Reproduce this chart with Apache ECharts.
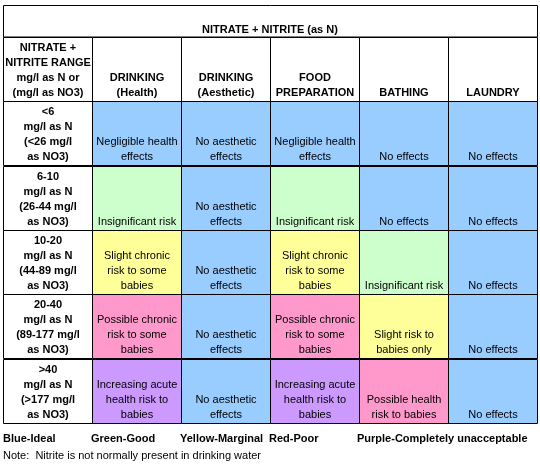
<!DOCTYPE html>
<html>
<head>
<meta charset="utf-8">
<script src="https://cdn.jsdelivr.net/npm/echarts@6/dist/echarts.min.js"></script>
<style>html,body{margin:0;padding:0;background:#fff}#chart{width:540px;height:467px}</style>
</head>
<body>
<div id="chart"></div>
<script>
const title = "NITRATE + NITRITE (as N)";
const columns = ["NITRATE +\nNITRITE RANGE\nmg/l as N or\n(mg/l as NO3)", "DRINKING\n(Health)", "DRINKING\n(Aesthetic)", "FOOD\nPREPARATION", "BATHING", "LAUNDRY"];
const ranges = ["<6\nmg/l as N\n(<26 mg/l\nas NO3)", "6-10\nmg/l as N\n(26-44 mg/l\nas NO3)", "10-20\nmg/l as N\n(44-89 mg/l\nas NO3)", "20-40\nmg/l as N\n(89-177 mg/l\nas NO3)", ">40\nmg/l as N\n(>177 mg/l\nas NO3)"];
const ratings = [
  ["blue", "blue", "blue", "blue", "blue"],
  ["green", "blue", "green", "blue", "blue"],
  ["yellow", "blue", "yellow", "green", "blue"],
  ["red", "blue", "red", "yellow", "blue"],
  ["purple", "blue", "purple", "red", "blue"]
];
const effects = [
  ["Negligible health\neffects", "No aesthetic\neffects", "Negligible health\neffects", "No effects", "No effects"],
  ["Insignificant risk", "No aesthetic\neffects", "Insignificant risk", "No effects", "No effects"],
  ["Slight chronic\nrisk to some\nbabies", "No aesthetic\neffects", "Slight chronic\nrisk to some\nbabies", "Insignificant risk", "No effects"],
  ["Possible chronic\nrisk to some\nbabies", "No aesthetic\neffects", "Possible chronic\nrisk to some\nbabies", "Slight risk to\nbabies only", "No effects"],
  ["Increasing acute\nhealth risk to\nbabies", "No aesthetic\neffects", "Increasing acute\nhealth risk to\nbabies", "Possible health\nrisk to babies", "No effects"]
];
const legendLabels = ["Blue-Ideal", "Green-Good", "Yellow-Marginal", "Red-Poor", "Purple-Completely unacceptable"];
const note = "Note:  Nitrite is not normally present in drinking water";

const colors = { white: "#ffffff", blue: "#99ccff", green: "#ccffcc", yellow: "#ffff99", red: "#ff99cc", purple: "#cc99ff" };
const FONT = "Liberation Sans, Arial, sans-serif";

// build cells: [col, row, color, text, bold]
const cells = [];
columns.forEach((c, i) => cells.push([i, 0, "white", c, 1]));
ranges.forEach((r, j) => {
  cells.push([0, j + 1, "white", r, 1]);
  effects[j].forEach((t, i) => cells.push([i + 1, j + 1, ratings[j][i], t, 0]));
});

const chart = echarts.init(document.getElementById("chart"));

chart.setOption({
  animation: false,
  grid: { left: 3, right: 3, top: 37, bottom: 44 },
  xAxis: { type: "category", data: columns.map((_, i) => i), show: false },
  yAxis: { type: "category", data: [0, 1, 2, 3, 4, 5], inverse: true, show: false },
  graphic: [
    { type: "rect", shape: { x: 3.5, y: 5.5, width: 534, height: 31.5 }, style: { fill: "#fff", stroke: "#000", lineWidth: 1 } },
    { type: "text", style: { text: title, x: 270, y: 35, align: "center", verticalAlign: "bottom", font: "bold 11px " + FONT, fill: "#000" } },
    ...legendLabels.map((t, i) => ({
      type: "text",
      style: { text: t, x: [3, 91, 180, 269, 357][i], y: 439, verticalAlign: "middle", font: "bold 11px " + FONT, fill: "#000" }
    })),
    { type: "text", style: { text: note, x: 3, y: 456, verticalAlign: "middle", font: "11px " + FONT, fill: "#000" } }
  ],
  series: [{
    type: "custom",
    data: cells,
    renderItem: (params, api) => {
      const c = api.coord([api.value(0), api.value(1)]);
      const s = api.size([1, 1]);
      const d = cells[params.dataIndex];
      const x0 = Math.round(c[0] - s[0] / 2) + 0.5;
      const y0 = Math.round(c[1] - s[1] / 2) + 0.5;
      const w = Math.round(s[0]);
      const h = Math.round(s[1]);
      return {
        type: "group",
        children: [
          { type: "rect", shape: { x: x0, y: y0, width: w, height: h }, style: { fill: colors[d[2]], stroke: "#000", lineWidth: 1 } },
          { type: "text", style: { text: d[3], x: x0 + w / 2, y: y0 + h - 1, align: "center", verticalAlign: "bottom", lineHeight: 15, font: (d[4] ? "bold " : "") + "11px " + FONT, fill: "#000" } }
        ]
      };
    }
  }]
});
</script>
</body>
</html>
